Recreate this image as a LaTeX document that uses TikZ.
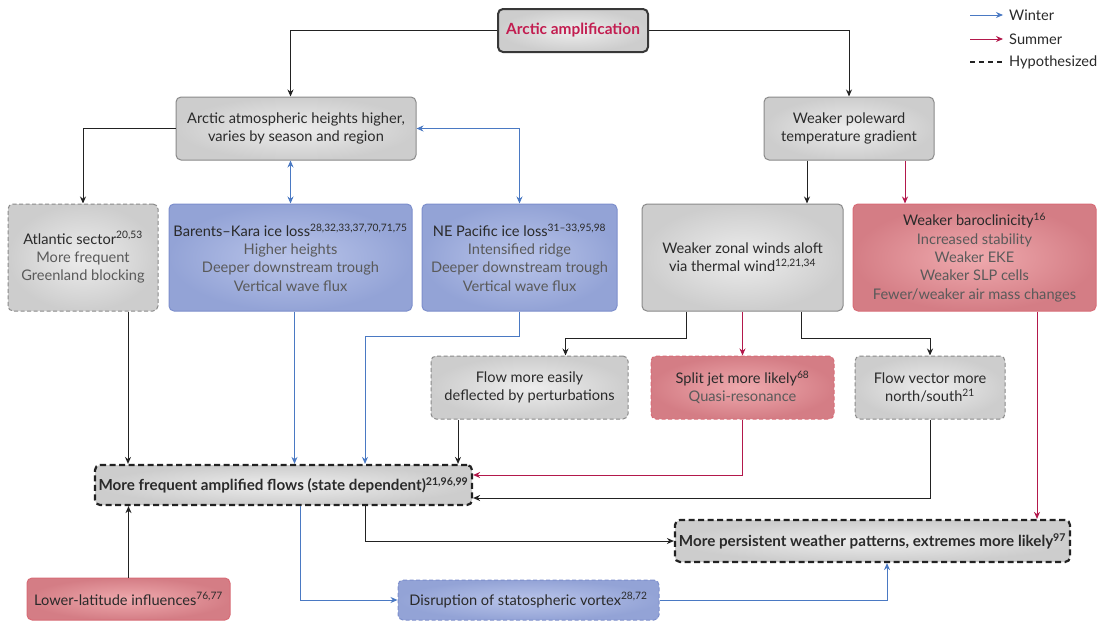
\documentclass[tikz,border=0pt]{standalone}
\usepackage{fontspec}
\setmainfont{Lato}
\usetikzlibrary{arrows.meta,calc}
\definecolor{crim}{HTML}{C21D50}
\definecolor{redln}{HTML}{B3184B}
\definecolor{blueln}{HTML}{4A79C3}
\definecolor{blkln}{HTML}{222222}
\definecolor{txt}{HTML}{2A2A2A}
\definecolor{sub}{HTML}{5A5A5A}
\definecolor{gout}{HTML}{CDCDCD}
\definecolor{gin}{HTML}{EDEDED}
\definecolor{gbd}{HTML}{8A8A8A}
\definecolor{bout}{HTML}{93A3D6}
\definecolor{bin}{HTML}{BAC5EA}
\definecolor{bbd}{HTML}{7D8FCC}
\definecolor{rout}{HTML}{D47D85}
\definecolor{rin}{HTML}{EFAAAE}
\definecolor{rbd}{HTML}{D86C77}
\tikzset{
  x=1pt,y=-1pt,
  base/.style={rounded corners=5pt, align=center, inner sep=2pt, text=txt,
    font=\fontsize{14.6}{18.3}\selectfont, line width=1pt, shading=radial},
  gbox/.style={base, draw=gbd, inner color=gin, outer color=gout},
  bbox/.style={base, draw=bbd, inner color=bin, outer color=bout},
  rbox/.style={base, draw=rbd, inner color=rin, outer color=rout},
  hyp/.style={dash pattern=on 4pt off 2.5pt},
  keybox/.style={gbox, draw=blkln, line width=2.2pt, dash pattern=on 6pt off 3.5pt,
    font=\fontsize{15.2}{18}\selectfont\bfseries},
  sz/.style 2 args={minimum width=#1, minimum height=#2},
  karrow/.style={draw=blkln, line width=1pt, -{Stealth[length=7pt,width=6pt]}},
  barrow/.style={draw=blueln, line width=1pt, -{Stealth[length=7pt,width=6pt]}},
  rarrow/.style={draw=redln, line width=1pt, -{Stealth[length=7pt,width=6pt]}},
  bboth/.style={draw=blueln, line width=1pt, {Stealth[length=7pt,width=6pt]}-{Stealth[length=7pt,width=6pt]}},
  legtext/.style={anchor=west, text=txt, font=\fontsize{14.6}{16}\selectfont, inner sep=0pt},
}
\begin{document}
\begin{tikzpicture}
\useasboundingbox[fill=white] (0,0) rectangle (1099,621);

% nodes
\node[gbox, sz={150}{43}, draw=blkln!90, line width=2pt, text=crim,
  font=\fontsize{15.4}{18}\selectfont\bfseries] (aa) at (573,30.5) {Arctic amplification};
\node[gbox, sz={240}{63}] (heights) at (296,128.5) {Arctic atmospheric heights higher,\\varies by season and region};
\node[gbox, sz={170}{63}] (pole) at (849,128.5) {Weaker poleward\\temperature gradient};
\node[gbox, hyp, sz={150}{107}] (atl) at (83,257.5) {Atlantic sector\textsuperscript{20,53}\\{\color{sub}More frequent}\\{\color{sub}Greenland blocking}};
\node[bbox, sz={243}{107}] (bk) at (290.5,257.5) {Barents–Kara ice loss\textsuperscript{28,32,33,37,70,71,75}\\{\color{sub}Higher heights}\\{\color{sub}Deeper downstream trough}\\{\color{sub}Vertical wave flux}};
\node[bbox, sz={195}{107}] (nep) at (519.5,257.5) {NE Pacific ice loss\textsuperscript{31–33,95,98}\\{\color{sub}Intensified ridge}\\{\color{sub}Deeper downstream trough}\\{\color{sub}Vertical wave flux}};
\node[gbox, sz={201}{107}] (zonal) at (742.5,257.5) {Weaker zonal winds aloft\\via thermal wind\textsuperscript{12,21,34}};
\node[rbox, sz={243}{107}] (baro) at (974.5,257.5) {Weaker baroclinicity\textsuperscript{16}\\{\color{sub}Increased stability}\\{\color{sub}Weaker EKE}\\{\color{sub}Weaker SLP cells}\\{\color{sub}Fewer/weaker air mass changes}};
\node[gbox, hyp, sz={197}{63}] (flow) at (529.5,387.5) {Flow more easily\\deflected by perturbations};
\node[rbox, hyp, sz={183}{63}] (split) at (742.5,387.5) {Split jet more likely\textsuperscript{68}\\{\color{sub}Quasi-resonance}};
\node[gbox, hyp, sz={150}{63}] (vec) at (930,387.5) {Flow vector more\\north/south\textsuperscript{21}};
\node[keybox, sz={377}{40}] (freq) at (283.5,485) {More frequent amplified flows (state dependent)\textsuperscript{21,96,99}};
\node[keybox, sz={395}{42}] (pers) at (872.5,541) {More persistent weather patterns, extremes more likely\textsuperscript{97}};
\node[rbox, sz={203}{42}] (lower) at (128.5,599) {Lower-latitude influences\textsuperscript{76,77}};
\node[bbox, hyp, sz={261}{40}] (disr) at (528.5,600) {Disruption of statospheric vortex\textsuperscript{28,72}};

% legend
\coordinate (lw1) at (970,15); \coordinate (lw2) at (1003,15);
\coordinate (ls1) at (970,39); \coordinate (ls2) at (1003,39);
\coordinate (lh1) at (970,62); \coordinate (lh2) at (1003,62);
\draw[barrow] (lw1) -- (lw2);
\draw[rarrow] (ls1) -- (ls2);
\draw[draw=blkln, line width=1.2pt, dash pattern=on 5pt off 4pt] (lh1) -- (lh2);
\node[legtext] (lwt) at (1009,15) {Winter};
\node[legtext] (lst) at (1009,39) {Summer};
\node[legtext] (lht) at (1009,62) {Hypothesized};

% connectors
\draw[karrow] (aa.west) -| (heights.north -| bk.north);
\draw[karrow] (aa.east) -| (pole.north);
\draw[karrow] (heights.west) -| (atl.north);
\draw[bboth] (heights.south -| bk.north) -- (bk.north);
\draw[bboth] (heights.east) -| (nep.north);
\draw[karrow] ([xshift=-42pt]pole.south) -- ([xshift=-42pt]pole.south |- zonal.north);
\draw[rarrow] ([xshift=56pt]pole.south) -- ([xshift=56pt]pole.south |- baro.north);
\draw[karrow] ([xshift=-56.5pt]zonal.south) -- ++(0,27) -| ([xshift=36pt]flow.north);
\draw[rarrow] (zonal.south) -- (split.north);
\draw[karrow] ([xshift=58.5pt]zonal.south) -- ++(0,27) -| (vec.north);
\draw[karrow] ([xshift=45pt]atl.south) -- ([xshift=45pt]atl.south |- freq.north);
\draw[barrow] ([xshift=4pt]bk.south) -- ([xshift=4pt]bk.south |- freq.north);
\draw[barrow] (nep.south) -- ++(0,25) -| ([xshift=81.5pt]freq.north);
\draw[karrow] ([xshift=-71.5pt]flow.south) -- ([xshift=-71.5pt]flow.south |- freq.north);
\draw[rarrow] (split.south) |- ([yshift=10pt]freq.east);
\draw[karrow] (vec.south) |- ([yshift=-13pt]freq.east);
\draw[barrow] ([xshift=16.5pt]freq.south) |- (disr.west);
\draw[karrow] ([xshift=81.5pt]freq.south) |- (pers.west);
\draw[rarrow] ([xshift=62.5pt]baro.south) -- ([xshift=62.5pt]baro.south |- pers.north);
\draw[barrow] (disr.east) -| ([xshift=14.5pt]pers.south);
\draw[karrow] (lower.north) -- (lower.north |- freq.south);
\end{tikzpicture}
\end{document}
